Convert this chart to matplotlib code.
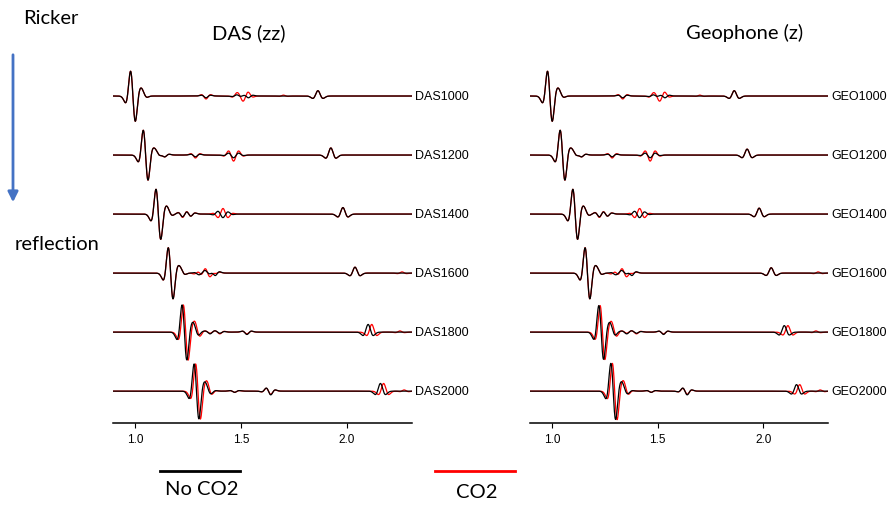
import matplotlib
matplotlib.use("Agg")
import matplotlib.pyplot as plt
import numpy as np
from matplotlib.lines import Line2D

# receiver depths (m) and event picks (s) shared by both panels
DEPTHS = [1000, 1200, 1400, 1600, 1800, 2000]
DIRECT_T = [0.990, 1.050, 1.110, 1.168, 1.233, 1.290]
DIRECT_RED_SHIFT = [0.0, 0.0, 0.0, 0.0, 0.006, 0.007]
REFL_T = [1.863, 1.924, 1.981, 2.038, 2.100, 2.158]
REFL_RED_SHIFT = [0.0, 0.0, 0.0, 0.0, 0.017, 0.015]

DAS_DIRECT_AMP = [0.42, 0.42, 0.42, 0.43, 0.46, 0.46]
GEO_DIRECT_AMP = [0.42, 0.42, 0.42, 0.43, 0.45, 0.47]
DAS_REFL_AMP = [0.09, 0.12, 0.11, 0.10, 0.13, 0.13]
GEO_REFL_AMP = [0.09, 0.10, 0.10, 0.09, 0.11, 0.11]

# weak coda / scattered events: time, amplitude without CO2, amplitude with CO2
WIGGLE_T = [
    [1.035, 1.335, 1.480, 1.510, 1.535, 1.700],
    [1.098, 1.140, 1.285, 1.440, 1.465, 1.490],
    [1.155, 1.225, 1.262, 1.390, 1.415, 1.440],
    [1.215, 1.300, 1.330, 1.355, 1.378, 2.260],
    [1.278, 1.300, 1.354, 1.400, 1.528, 2.250],
    [1.335, 1.360, 1.470, 1.620, 1.640, 2.270],
]
WIGGLE_BLACK = [
    [0.05, -0.03, 0.02, 0.00, -0.03, 0.00],
    [0.05, -0.03, -0.03, 0.02, -0.03, 0.02],
    [0.05, -0.05, -0.04, 0.03, -0.04, 0.02],
    [0.05, -0.02, 0.03, -0.02, -0.05, 0.00],
    [0.07, -0.02, -0.03, -0.02, -0.04, 0.00],
    [0.06, -0.02, -0.02, 0.03, -0.05, 0.00],
]
WIGGLE_RED = [
    [0.05, -0.05, 0.04, -0.06, 0.04, 0.015],
    [0.05, -0.03, -0.05, 0.04, -0.07, 0.04],
    [0.05, -0.06, -0.04, -0.03, 0.07, -0.03],
    [0.05, 0.03, 0.06, -0.05, -0.03, 0.02],
    [0.09, -0.03, -0.02, -0.03, -0.03, 0.02],
    [0.08, -0.02, -0.02, 0.03, -0.04, 0.02],
]

XLIM = (0.896, 2.307)
X_TICKS = [1.0, 1.5, 2.0]


def ricker(t, f):
    a = (np.pi * f * t) ** 2
    return (1 - 2 * a) * np.exp(-a)


def dricker(t, f):
    # time derivative of a Ricker, scaled so the main lobes reach +-1
    a = (np.pi * f * t) ** 2
    return -2 * (np.pi * f) ** 2 * t * (3 - 2 * a) * np.exp(-a) / (1.9518 * np.pi * f)


def trace(t, i, direct_amp, refl_amp, co2):
    shift_d = DIRECT_RED_SHIFT[i] if co2 else 0.0
    shift_r = REFL_RED_SHIFT[i] if co2 else 0.0
    y = direct_amp[i] * dricker(t - DIRECT_T[i] - shift_d, 15)
    y += refl_amp[i] * ricker(t - REFL_T[i] - shift_r, 16)
    amps = WIGGLE_RED[i] if co2 else WIGGLE_BLACK[i]
    for tw, aw in zip(WIGGLE_T[i], amps):
        y += aw * ricker(t - tw - (shift_d if tw < 1.35 else 0.0), 18)
    return y


def draw_panel(ax, prefix, direct_amp, refl_amp):
    t = np.linspace(XLIM[0], XLIM[1], 2000)
    for i, depth in enumerate(DEPTHS):
        off = -i
        ax.plot(t, off + trace(t, i, direct_amp, refl_amp, True), color="#ff0000", lw=0.9)
        ax.plot(t, off + trace(t, i, direct_amp, refl_amp, False), color="black", lw=0.9)
        ax.text(1.01, off, f"{prefix}{depth}", transform=ax.get_yaxis_transform(),
                va="center", ha="left", fontsize=9, family="Liberation Sans")
    ax.set_xlim(*XLIM)
    ax.set_ylim(-5.54, 0.6)
    for side in ("left", "right", "top"):
        ax.spines[side].set_visible(False)
    ax.spines["bottom"].set_linewidth(1.1)
    ax.set_yticks([])
    ax.set_xticks(X_TICKS)
    ax.set_xticklabels([f"{v:.1f}" for v in X_TICKS], family="Liberation Sans")
    ax.tick_params(axis="x", direction="out", length=3.5, width=0.8, labelsize=8.5, pad=4)


fig = plt.figure(figsize=(8.88, 5.06), dpi=100)
W, H = 888, 506
bottom = 1 - 424 / H
height = (424 - 61.6) / H
ax_das = fig.add_axes([113 / W, bottom, 299 / W, height])
ax_geo = fig.add_axes([530 / W, bottom, 298 / W, height])
draw_panel(ax_das, "DAS", DAS_DIRECT_AMP, DAS_REFL_AMP)
draw_panel(ax_geo, "GEO", GEO_DIRECT_AMP, GEO_REFL_AMP)

label_font = dict(family="Lato", fontsize=14.5)
fig.text(249 / W, 1 - 33 / H, "DAS (zz)", ha="center", va="center", **label_font)
fig.text(745 / W, 1 - 33 / H, "Geophone (z)", ha="center", va="center", **label_font)
fig.text(51 / W, 1 - 18 / H, "Ricker", ha="center", va="center", **label_font)
fig.text(57 / W, 1 - 245 / H, "reflection", ha="center", va="center", **label_font)

# depth arrow on the left
fig.add_artist(matplotlib.patches.FancyArrowPatch(
    (13 / W, 1 - 53 / H), (13 / W, 1 - 206 / H), transform=fig.transFigure,
    arrowstyle="-|>,head_length=6,head_width=3", color="#4472c4", lw=2))

# line key underneath
fig.add_artist(Line2D([160 / W, 240 / W], [1 - 472 / H] * 2, color="black", lw=2))
fig.add_artist(Line2D([435 / W, 515 / W], [1 - 472 / H] * 2, color="#ff0000", lw=2))
fig.text(202 / W, 1 - 490 / H, "No CO2", ha="center", va="center", **label_font)
fig.text(477 / W, 1 - 493 / H, "CO2", ha="center", va="center", **label_font)

fig.savefig("out.png", dpi=100)
